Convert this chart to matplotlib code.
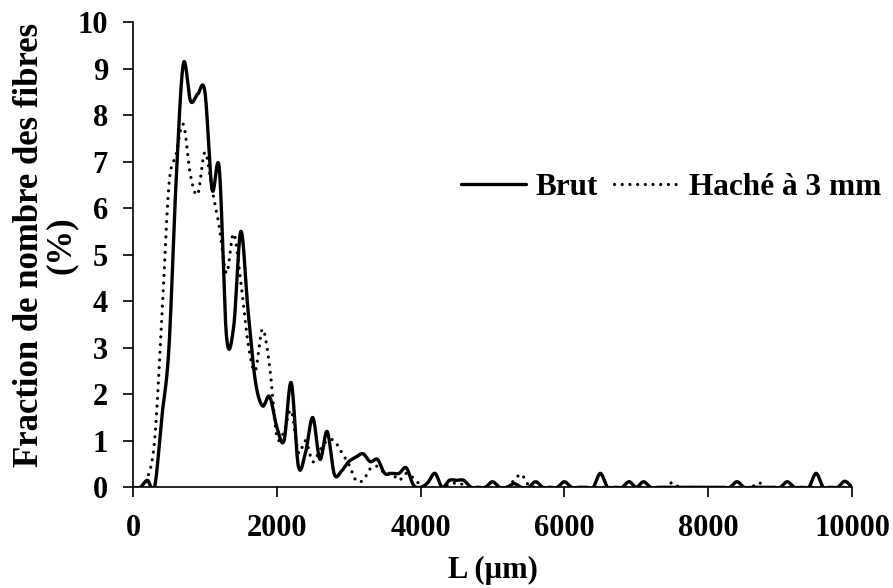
import numpy as np
import matplotlib
matplotlib.use("Agg")
import matplotlib.pyplot as plt

# longueurs (µm), pas de 100
longueurs = np.arange(0, 10001, 100)

brut = [
    0, 0, 0.15, 0, 1.5, 3.0, 6.6, 9.1, 8.3, 8.45,
    8.5, 6.4, 6.85, 3.25, 3.45, 5.5, 3.8, 2.3, 1.75, 1.95,
    1.3, 1.0, 2.25, 0.45, 0.75, 1.5, 0.6, 1.2, 0.28, 0.35,
    0.55, 0.65, 0.72, 0.55, 0.6, 0.3, 0.3, 0.3, 0.42, 0.05,
    0, 0.1, 0.3, 0, 0.15, 0.15, 0.15, 0, 0, 0,
    0.12, 0, 0, 0.08, 0, 0, 0.12, 0, 0, 0,
    0.12, 0, 0, 0, 0, 0.3, 0, 0, 0, 0.12,
    0, 0.12, 0, 0, 0, 0, 0, 0, 0, 0,
    0, 0, 0, 0, 0.12, 0, 0, 0, 0, 0,
    0, 0.12, 0, 0, 0, 0.3, 0, 0, 0, 0.13,
    0,
]

hache = [
    0, 0, 0.2, 1.0, 3.6, 6.5, 7.15, 7.8, 6.7, 6.3,
    7.2, 6.4, 5.6, 4.6, 5.45, 4.4, 3.1, 2.5, 3.4, 2.6,
    1.1, 1.2, 1.65, 0.75, 1.0, 0.55, 0.8, 1.0, 1.0, 0.75,
    0.5, 0.15, 0.15, 0.4, 0.45, 0.3, 0.3, 0.15, 0.3, 0.2,
    0.05, 0, 0, 0, 0.05, 0.1, 0.05, 0, 0, 0,
    0, 0, 0, 0.15, 0.28, 0.05, 0, 0, 0, 0,
    0, 0, 0, 0, 0, 0, 0, 0, 0, 0,
    0, 0, 0, 0, 0, 0.1, 0, 0, 0, 0,
    0, 0, 0, 0, 0, 0, 0, 0.1, 0, 0,
    0, 0, 0, 0, 0, 0, 0, 0, 0, 0,
    0,
]

series_labels = ["Brut", "Haché à 3 mm"]


def lisser(x, y, n=16):
    # courbe lissee facon Excel (Bezier / Catmull-Rom)
    x = np.asarray(x, float)
    y = np.asarray(y, float)
    xs, ys = [], []
    for i in range(len(x) - 1):
        i0 = max(i - 1, 0)
        i3 = min(i + 2, len(x) - 1)
        p0, p1, p2, p3 = (np.array([x[k], y[k]]) for k in (i0, i, i + 1, i3))
        c1 = p1 + (p2 - p0) / 6
        c2 = p2 - (p3 - p1) / 6
        t = np.linspace(0, 1, n, endpoint=False)[:, None]
        pts = ((1 - t) ** 3) * p1 + 3 * ((1 - t) ** 2) * t * c1 + 3 * (1 - t) * t ** 2 * c2 + t ** 3 * p2
        xs.extend(pts[:, 0])
        ys.extend(pts[:, 1])
    xs.append(x[-1])
    ys.append(y[-1])
    return np.array(xs), np.array(ys)


plt.rcParams['font.family'] = ['Liberation Serif', 'DejaVu Serif']
plt.rcParams['font.weight'] = 'bold'

fig = plt.figure(figsize=(8.93, 5.88), dpi=100)
ax = fig.add_axes([133 / 893, 1 - 487.3 / 588, 719 / 893, 465.3 / 588])

xb, yb = lisser(longueurs, brut)
xh, yh = lisser(longueurs, hache)
ax.plot(xb, yb, color='black', lw=2.4, label=series_labels[0], solid_capstyle='round')
ax.plot(xh, yh, color='black', lw=2.3, linestyle=(0, (0.01, 2.4)), dash_capstyle='round',
        label=series_labels[1])

ax.set_xlim(0, 10000)
ax.set_ylim(0, 10)
ax.set_xticks(np.arange(0, 10001, 2000))
ax.set_yticks(np.arange(0, 11, 1))
ax.spines['top'].set_visible(False)
ax.spines['right'].set_visible(False)
for s in ('left', 'bottom'):
    ax.spines[s].set_linewidth(1.2)
ax.tick_params(axis='both', direction='out', length=7, width=1.2, labelsize=22)
ax.tick_params(axis='x', pad=12)
ax.tick_params(axis='y', pad=11)

ax.set_xlabel("L (µm)", fontsize=22, fontweight='bold')
ax.xaxis.set_label_coords(0.5, -0.148)
ax.set_ylabel("Fraction de nombre des fibres\n(%)", fontsize=25, fontweight='bold',
              linespacing=0.95, multialignment='center')
ax.yaxis.set_label_coords(-0.0765, 0.52)

leg = ax.legend(loc='center left', bbox_to_anchor=(0.456, 0.644), ncol=2, frameon=False,
                fontsize=22.5, handlelength=2.1, handletextpad=0.3, columnspacing=0.5,
                borderpad=0, borderaxespad=0)

fig.savefig("out.png", dpi=100)
